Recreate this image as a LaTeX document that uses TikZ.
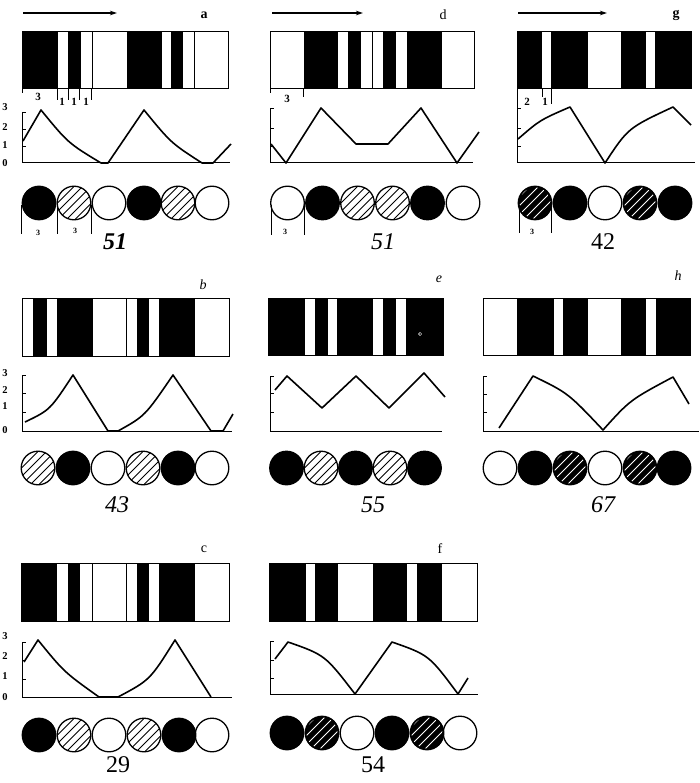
\documentclass[tikz,border=0pt]{standalone}
\usepackage{fontspec}
\setmainfont{Liberation Serif}
\usetikzlibrary{arrows.meta}
\tikzset{
  frame/.style={line width=1pt},
  sepline/.style={line width=0.7pt},
  curve/.style={line width=1.6pt, line join=round},
  axisline/.style={line width=0.8pt},
  baseline/.style={line width=1pt},
  circ/.style={line width=1.3pt},
  tickline/.style={line width=0.8pt},
  lab/.style={font=\fontsize{14}{14}\selectfont, inner sep=0pt},
  labbf/.style={font=\fontsize{14}{14}\selectfont\bfseries, inner sep=0pt},
  labit/.style={font=\fontsize{14}{14}\selectfont\itshape, inner sep=0pt},
  num/.style={font=\fontsize{24}{24}\selectfont, inner sep=0pt},
  ylab/.style={font=\fontsize{10.5}{10.5}\selectfont\bfseries, inner sep=0pt},
  ulab/.style={font=\fontsize{11}{11}\selectfont\bfseries, inner sep=0pt},
  clab/.style={font=\fontsize{8}{8}\selectfont\bfseries, inner sep=0pt},
  arr/.style={line width=1.6pt, -{Stealth[length=7pt,width=4.5pt]}}
}
\newcommand{\barcode}[5]{%
  \foreach \p/\q in {#5} {\fill (\p,#2) rectangle (\q,#4);}
  \draw[frame] (#1,#2) rectangle (#3,#4);}
\newcommand{\cB}[2]{\fill (#1,#2) circle[radius=17.4pt];}
\newcommand{\cW}[2]{\draw[circ] (#1,#2) circle[radius=16.8pt];}
\newcommand{\cH}[2]{%
  \begin{scope}[shift={(#1,#2)}]
    \clip (0,0) circle[radius=17pt];
    \foreach \k in {-42,-33.5,...,43} {\draw[line width=0.8pt] (\k-25,25) -- (\k+25,-25);}
  \end{scope}
  \draw[circ] (#1,#2) circle[radius=16.8pt];}
\newcommand{\cD}[2]{%
  \fill (#1,#2) circle[radius=17.4pt];
  \begin{scope}[shift={(#1,#2)}]
    \clip (0,0) circle[radius=15.5pt];
    \foreach \k in {-40,-31,...,41} {\draw[white,line width=1pt] (\k-25,25) -- (\k+25,-25);}
  \end{scope}}
\newcommand{\yticks}[3]{\foreach \t in {#2} {\draw[tickline] (#1,\t) -- ++(3.5,0);}}

\begin{document}
\begin{tikzpicture}[x=1pt,y=-1pt]
\useasboundingbox (0,0) rectangle (699,783);
\fill[white] (0,0) rectangle (699,783);

% ================= arrows and letters
\coordinate (aS) at (23,13); \coordinate (aE) at (117,13);
\coordinate (dS) at (272,13); \coordinate (dE) at (363,13);
\coordinate (gS) at (518,13); \coordinate (gE) at (607,13);
\draw[arr] (aS) -- (aE);
\draw[arr] (dS) -- (dE);
\draw[arr] (gS) -- (gE);
\node[labbf] (la) at (204,15) {a};
\node[lab] (ld) at (443,15) {d};
\node[labbf] (lg) at (676,15) {g};
\node[labit] (lb) at (203,285) {b};
\node[labit] (le) at (439,279) {e};
\node[labit] (lh) at (678,276) {h};
\node[lab] (lc) at (204,549) {c};
\node[lab] (lf) at (440,549) {f};

% ================= barcodes
\barcode{22}{32}{228}{89}{22/58,68/81,127/162,171/183}
\draw[sepline] (92,32) -- (92,89); \draw[sepline] (194,32) -- (194,89);
\barcode{270}{32}{474}{89}{304/338,348/361,383/396,407/442}
\draw[sepline] (372,32) -- (372,89);
\barcode{517}{32}{691}{89}{517/542,551/588,621/646,655/691}
\barcode{22}{298}{229}{356}{33/47,57/93,137/149,159/195}
\draw[sepline] (126,298) -- (126,356);
\barcode{268}{298}{443}{355}{268/305,315/328,337/373,383/396,406/443}
\draw[white,line width=0.5pt] (420,334) circle[radius=1.6pt];
\barcode{483}{298}{690}{355}{517/554,563/588,621/646,656/690}
\barcode{21}{563}{229}{621}{21/57,68/80,137/149,159/195}
\draw[sepline] (92,563) -- (92,621); \draw[sepline] (126,563) -- (126,621);
\barcode{269}{563}{477}{621}{269/306,315/338,373/407,417/442}

% ================= barcode unit labels
\foreach \x/\e in {22/93,57/100,68/100,79/100,91/100} {\draw[tickline] (\x,89) -- (\x,\e);}
\node[ulab] (ua1) at (38,97) {3};
\node[ulab] (ua2) at (62,102) {1};
\node[ulab] (ua3) at (74,102) {1};
\node[ulab] (ua4) at (86,102) {1};
\foreach \x/\e in {270/93,303/97} {\draw[tickline] (\x,89) -- (\x,\e);}
\node[ulab] (ud1) at (287,99) {3};
\foreach \x/\e in {517/104,542/97,551/104} {\draw[tickline] (\x,89) -- (\x,\e);}
\node[ulab] (ug1) at (527,102) {2};
\node[ulab] (ug2) at (545,102) {1};

% ================= graphs: panel a
\draw[baseline] (22,163) -- (230,163);
\draw[axisline] (22,112) -- (22,163);
\yticks{22}{112,129,146}{}
\node[ylab] (ya3) at (5,107) {3};
\node[ylab] (ya2) at (5,127) {2};
\node[ylab] (ya1) at (5,145) {1};
\node[ylab] (ya0) at (5,163) {0};
\draw[curve] (23,141) -- (41,110) .. controls (68,143) .. (101,163) -- (108,163) -- (144,110)
  .. controls (171,143) .. (202,163) -- (213,163) -- (231,144);

% panel d
\draw[baseline] (270,163) -- (473,163);
\draw[axisline] (270,108) -- (270,163);
\yticks{270}{108,128,146}{}
\draw[curve] (271,144) -- (286,163) -- (321,108) -- (356,144) -- (388,144) -- (421,108) -- (457,163) -- (479,132);

% panel g
\draw[baseline] (517,163) -- (695,163);
\draw[axisline] (517,102) -- (517,163);
\yticks{517}{108,128,146}{}
\draw[curve] (518,139) .. controls (540,120) .. (570,107) -- (605,163)
  .. controls (628,128) .. (673,107) -- (691,125);

% panel b
\draw[baseline] (22,431) -- (232,431);
\draw[axisline] (22,375) -- (22,431);
\yticks{22}{375,393,412}{}
\node[ylab] (yb3) at (5,373) {3};
\node[ylab] (yb2) at (5,390) {2};
\node[ylab] (yb1) at (5,406) {1};
\node[ylab] (yb0) at (5,430) {0};
\draw[curve] (25,422) .. controls (50,410) .. (73,375) -- (108,431) -- (118,431)
  .. controls (145,416) .. (173,375) -- (211,431) -- (223,431) -- (233,414);

% panel e
\draw[baseline] (270,431) -- (442,431);
\draw[axisline] (270,376) -- (270,431);
\yticks{270}{376,393,412}{}
\draw[curve] (275,390) -- (287,376) -- (322,408) -- (356,376) -- (389,408) -- (424,373) -- (445,397);

% panel h
\draw[baseline] (483,431) -- (699,431);
\draw[axisline] (483,376) -- (483,431);
\yticks{483}{376,394,412}{}
\draw[curve] (499,428) -- (533,376) .. controls (568,393) .. (603,430)
  .. controls (630,400) .. (673,377) -- (689,404);

% panel c
\draw[baseline] (22,697) -- (232,697);
\draw[axisline] (22,642) -- (22,697);
\yticks{22}{642,660,679}{}
\node[ylab] (yc3) at (5,636) {3};
\node[ylab] (yc2) at (5,656) {2};
\node[ylab] (yc1) at (5,676) {1};
\node[ylab] (yc0) at (5,697) {0};
\draw[curve] (24,662) -- (38,640) .. controls (64,672) .. (99,697) -- (118,697)
  .. controls (150,680) .. (175,640) -- (211,697);

% panel f
\draw[baseline] (270,694) -- (478,694);
\draw[axisline] (270,641) -- (270,694);
\yticks{270}{641,660,678}{}
\draw[curve] (275,659) -- (288,642) .. controls (325,655) .. (355,694) -- (392,642)
  .. controls (429,655) .. (458,694) -- (468,678);

% ================= circles
% a: B H W B H W
\cB{39}{203} \cH{74}{203} \cW{109}{203} \cB{144}{203} \cH{178}{203} \cW{212}{203}
\foreach \x in {21,57,91} {\draw[tickline] (\x,205) -- (\x,234);}
\node[clab] (ca1) at (38,233) {3};
\node[clab] (ca2) at (75,231) {3};
\node[num,font=\fontsize{24}{24}\selectfont\bfseries\itshape] (na) at (115,242) {51};
% d: W B H H B W
\cW{287.5}{203} \cB{322.5}{203} \cH{357.5}{203} \cH{392.5}{203} \cB{427.5}{203} \cW{463}{203}
\foreach \x in {271,304} {\draw[tickline] (\x,205) -- (\x,235);}
\node[clab] (cd1) at (285,232) {3};
\node[num,font=\fontsize{24}{24}\selectfont\itshape] (nd) at (383,242) {51};
% g: D B W D B
\cD{535}{203} \cB{570}{203} \cW{605}{203} \cD{640}{203} \cB{675}{203}
\foreach \x in {519,551} {\draw[tickline] (\x,205) -- (\x,233);}
\node[clab] (cg1) at (532,232) {3};
\node[num] (ng) at (603,242) {42};
% b: H B W H B W
\cH{38}{468} \cB{73}{468} \cW{108}{468} \cH{143}{468} \cB{178}{468} \cW{212}{468}
\node[num,font=\fontsize{24}{24}\selectfont\itshape] (nb) at (117,505) {43};
% e: B H B H B
\cB{286.5}{468} \cH{321}{468} \cB{355.5}{468} \cH{390}{468} \cB{424.5}{468}
\node[num,font=\fontsize{24}{24}\selectfont\itshape] (ne) at (373,505) {55};
% h: W B D W D B
\cW{500}{468} \cB{535}{468} \cD{570}{468} \cW{605}{468} \cD{640}{468} \cB{674}{468}
\node[num,font=\fontsize{24}{24}\selectfont\itshape] (nh) at (603,505) {67};
% c: B H W H B W
\cB{39}{735} \cH{74}{735} \cW{109}{735} \cH{144}{735} \cB{179}{735} \cW{212}{735}
\node[num] (nc) at (118,765) {29};
% f: B D W B D W
\cB{287}{733} \cD{322}{733} \cW{357}{733} \cB{392}{733} \cD{427}{733} \cW{460}{733}
\node[num] (nf) at (373,765) {54};
\end{tikzpicture}
\end{document}
